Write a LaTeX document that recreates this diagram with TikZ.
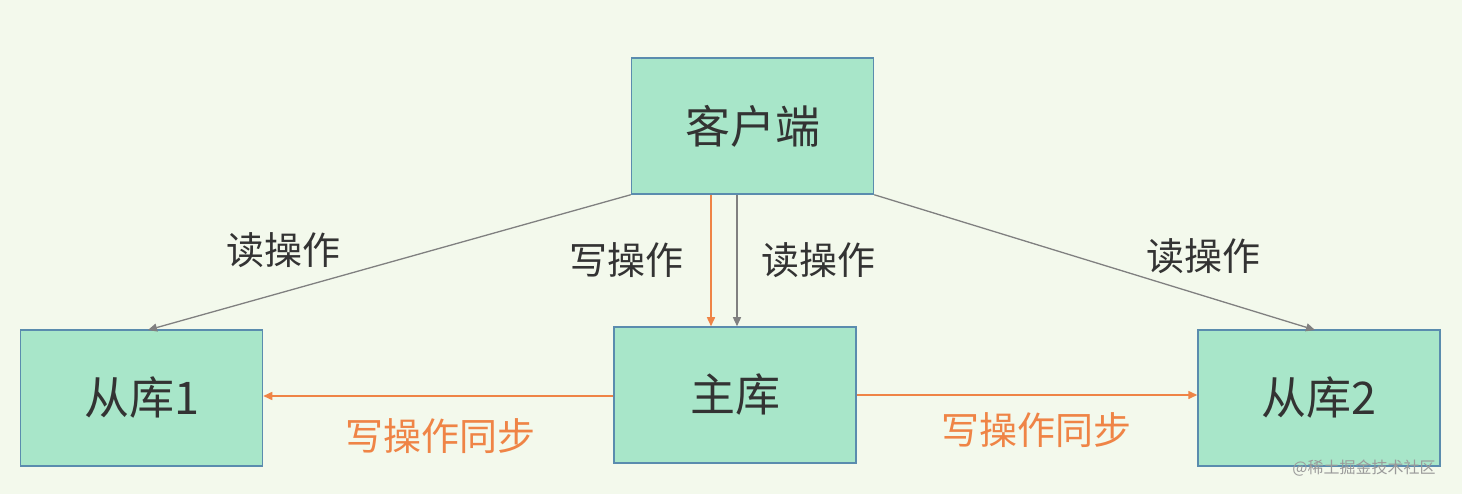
\documentclass[tikz,border=0pt]{standalone}
\usepackage{fontspec}
\setmainfont{Noto Sans CJK SC}
\usetikzlibrary{arrows.meta}
\definecolor{bg}{HTML}{F3F9EC}
\definecolor{boxfill}{HTML}{A8E6C9}
\definecolor{boxline}{HTML}{5A8CAE}
\definecolor{org}{HTML}{EF8446}
\definecolor{gr}{HTML}{808080}
\definecolor{txt}{HTML}{333333}
\tikzset{
 box/.style={draw=boxline,line width=1.5pt,fill=boxfill,minimum width=242pt,minimum height=136pt,inner sep=0pt,font=\fontsize{45}{50}\selectfont,text=txt},
 lbl/.style={font=\fontsize{38}{44}\selectfont,text=txt},
 olbl/.style={font=\fontsize{38}{44}\selectfont,text=org},
 garrow/.style={draw=gr,line width=1.3pt,-{Triangle[length=9pt,width=8pt]}},
 oarrow/.style={draw=org,line width=1.5pt,-{Triangle[length=9pt,width=8pt]}},
}
\begin{document}
\begin{tikzpicture}[x=1pt,y=-1pt]
\fill[bg] (0,0) rectangle (1462,494);
\useasboundingbox (0,0) rectangle (1462,494);
\node[box] (c) at (752.5,126) {客户端};
\node[box] (s1) at (141.5,398) {从库1};
\node[box] (m) at (735,395) {主库};
\node[box] (s2) at (1319,398) {从库2};
\coordinate (s1t) at (148,330);
\coordinate (s2t) at (1315,330);
\draw[garrow] (c.south west) -- (s1t);
\draw[garrow] (c.south east) -- (s2t);
\draw[oarrow] (c.south -| 711,0) -- (m.north -| 711,0);
\draw[garrow] (c.south -| 737,0) -- (m.north -| 737,0);
\draw[oarrow] (m.west |- 0,396) -- (s1.east |- 0,396);
\draw[oarrow] (m.east |- 0,395) -- (s2.west |- 0,395);
\node[lbl] (l1) at (283,250) {读操作};
\node[lbl] (l2) at (626,260) {写操作};
\node[lbl] (l3) at (818,260) {读操作};
\node[lbl] (l4) at (1203,256) {读操作};
\node[olbl] (l5) at (440,436) {写操作同步};
\node[olbl] (l6) at (1036,430) {写操作同步};
\node[font=\fontsize{16}{18}\selectfont,text=gr!80] (wm) at (1364,468) {@稀土掘金技术社区};
\end{tikzpicture}
\end{document}
